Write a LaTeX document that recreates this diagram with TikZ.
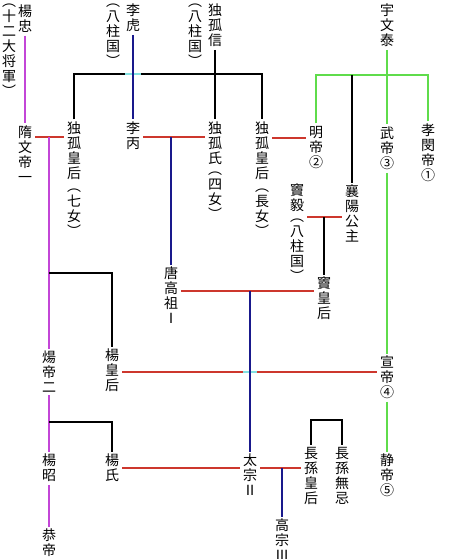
\documentclass[tikz,border=0pt]{standalone}
\usepackage{fontspec}
\newfontfamily\cjk{Noto Sans CJK JP}
\definecolor{cred}{RGB}{205,55,45}
\definecolor{cmag}{RGB}{195,70,215}
\definecolor{cblue}{RGB}{25,25,140}
\definecolor{cgrn}{RGB}{95,220,75}
\definecolor{ccyan}{RGB}{130,225,225}
\begin{document}
\begin{tikzpicture}[x=1pt,y=-1pt,
  vt/.style={font=\cjk\fontsize{14}{15}\selectfont, align=center, inner xsep=3pt, inner ysep=2.5pt, anchor=north},
  ln/.style={line width=1.6pt},
  redl/.style={ln, draw=cred},
  magl/.style={ln, draw=cmag},
  bluel/.style={ln, draw=cblue},
  grnl/.style={ln, draw=cgrn},
  blkl/.style={ln, draw=black},
  cyl/.style={ln, draw=ccyan}]
\useasboundingbox (0,0) rectangle (453,559);
\fill[white] (0,0) rectangle (453,559);
% top row
\node[vt] (yangzhong) at (25,2.5) {楊\\忠};
\node[vt] (jiangjun) at (9,1) {︵\\十\\二\\大\\将\\軍\\︶};
\node[vt] (lihu) at (133,1.5) {李\\虎};
\node[vt] (bazhua) at (113,1) {︵\\八\\柱\\国\\︶};
\node[vt] (duguxin) at (215,1.5) {独\\孤\\信};
\node[vt] (bazhub) at (195,1) {︵\\八\\柱\\国\\︶};
\node[vt] (yuwentai) at (387,1.5) {宇\\文\\泰};
% second row
\node[vt] (suiwendi) at (25,123.5) {隋\\文\\帝\\一};
\node[vt] (dugua) at (74,119.5) {独\\孤\\皇\\后\\[-2pt]︵\\七\\女\\︶};
\node[vt] (libing) at (133,119.5) {李\\丙};
\node[vt] (dugub) at (215,119.5) {独\\孤\\氏\\[-4pt]︵\\四\\女\\︶};
\node[vt] (duguc) at (262,119.5) {独\\孤\\皇\\后\\[-2pt]︵\\長\\女\\︶};
\node[vt] (mingdi) at (316,123.5) {明\\帝\\②};
\node[vt] (wudi) at (387,124.5) {武\\帝\\③};
\node[vt] (xiaomin) at (428,121.5) {孝\\閔\\帝\\①};
% third
\node[vt] (xiangyang) at (352,182.5) {襄\\陽\\公\\主};
\node[vt] (douyi) at (297,181.5) {竇\\毅\\[-4pt]︵\\八\\柱\\国\\︶};
\node[vt] (douhh) at (324,274.5) {竇\\皇\\后};
\node[vt] (tanggaozu) at (171,264.5) {唐\\高\\祖\\Ⅰ};
% fourth
\node[vt] (yangdi) at (49,348.5) {煬\\帝\\二};
\node[vt] (yanghh) at (112,346.5) {楊\\皇\\后};
\node[vt] (xuandi) at (387,353.5) {宣\\帝\\④};
% fifth
\node[vt] (yangzhao) at (49,451.5) {楊\\昭};
\node[vt] (yangshi) at (112,451.5) {楊\\氏};
\node[vt] (taizong) at (250,451.5) {太\\宗\\Ⅱ};
\node[vt] (zhangsunhh) at (311,444.5) {長\\孫\\皇\\后};
\node[vt] (wuji) at (342,444.5) {長\\孫\\無\\忌};
\node[vt] (jingdi) at (387,451.5) {静\\帝\\⑤};
\node[vt] (gaozong) at (282,516.5) {高\\宗\\Ⅲ};
\node[vt] (gongdi) at (49,526.5) {恭\\帝};
% junction coordinates
\coordinate (t1) at (74,74);
\coordinate (g1) at (316,75);
\coordinate (r1) at (49,137);
\coordinate (r2) at (171,137);
\coordinate (r3) at (290,138);
\coordinate (r4) at (324,217);
\coordinate (r5) at (250,291);
\coordinate (r6) at (250,372);
\coordinate (r7) at (180,468);
\coordinate (r8) at (282,468);
\coordinate (b1) at (49,273);
\coordinate (b2) at (49,422);
\coordinate (b3) at (311,420);
% black tree of Dugu Xin
\draw[blkl] (dugua.north) -- (dugua.north |- t1) -- (duguc.north |- t1) -- (duguc.north);
\draw[blkl] (duguxin.south) -- (dugub.north);
\draw[cyl] (lihu.south |- t1) ++(-8,0) -- ++(16,0);
\draw[bluel] (lihu.south) -- (libing.north);
% Yuwen Tai
\draw[grnl] (mingdi.north) -- (mingdi.north |- g1) -- (xiaomin.north |- g1) -- (xiaomin.north);
\draw[grnl] (yuwentai.south) -- (wudi.north);
\draw[blkl] (xiangyang.north |- g1) -- (xiangyang.north);
\draw[grnl] (wudi.south) -- (xuandi.north);
\draw[grnl] (xuandi.south) -- (jingdi.north);
% marriages
\draw[redl] (suiwendi.east |- r1) -- (dugua.west |- r1);
\draw[redl] (libing.east |- r2) -- (dugub.west |- r2);
\draw[redl] (duguc.east |- r3) -- (mingdi.west |- r3);
\draw[redl] (douyi.east |- r4) -- (xiangyang.west |- r4);
\draw[redl] (tanggaozu.east |- r5) -- (douhh.west |- r5);
\draw[redl] (yanghh.east |- r6) -- (xuandi.west |- r6);
\draw[cyl] (r6) ++(-7,0) -- ++(14,0);
\draw[redl] (yangshi.east |- r7) -- (taizong.west |- r7);
\draw[redl] (taizong.east |- r8) -- (zhangsunhh.west |- r8);
% descents
\draw[magl] (yangzhong.south) -- (suiwendi.north);
\draw[magl] (r1) -- (yangdi.north);
\draw[magl] (yangdi.south) -- (yangzhao.north);
\draw[magl] (yangzhao.south) -- (gongdi.north);
\draw[bluel] (r2) -- (tanggaozu.north);
\draw[blkl] (r4) -- (douhh.north);
\draw[bluel] (r5) -- (taizong.north);
\draw[bluel] (r8) -- (gaozong.north);
\draw[blkl] (b1) -| (yanghh.north);
\draw[blkl] (b2) -| (yangshi.north);
\draw[blkl] (zhangsunhh.north) -- (zhangsunhh.north |- b3) -- (wuji.north |- b3) -- (wuji.north);
\end{tikzpicture}
\end{document}
